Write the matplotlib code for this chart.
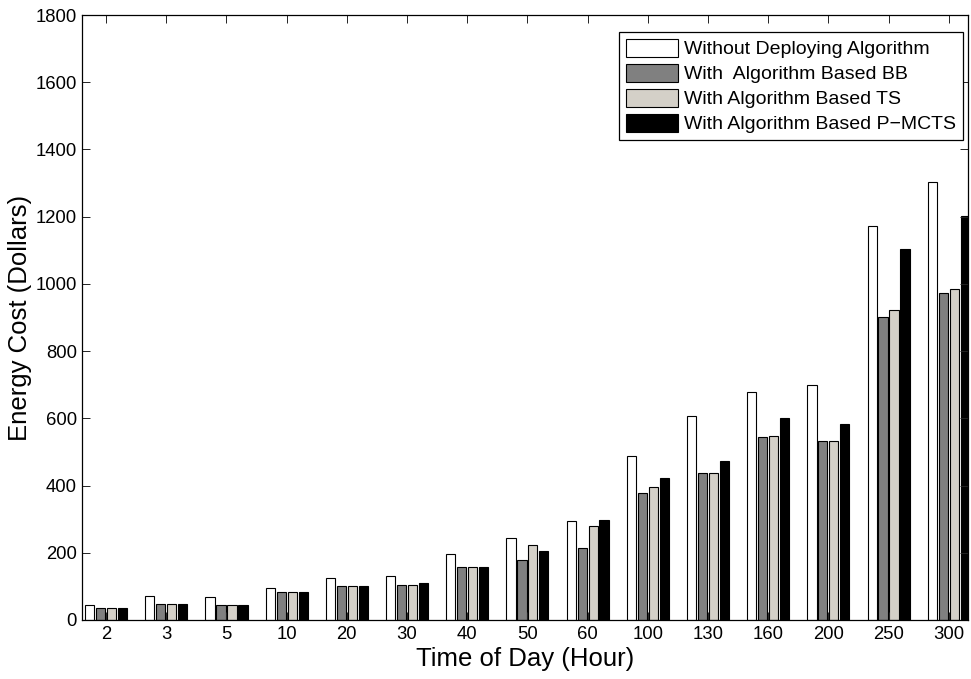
import numpy as np
import matplotlib
matplotlib.use("Agg")
import matplotlib.pyplot as plt

plt.rcParams['font.family'] = ['Liberation Sans', 'DejaVu Sans']

# energy cost per time of day
hours = ['2', '3', '5', '10', '20', '30', '40', '50', '60', '100', '130', '160', '200', '250', '300']
no_algo = [45, 72, 68, 94, 124, 131, 196, 244, 295, 489, 608, 679, 700, 1172, 1303]
bb_algo = [36, 47, 44, 84, 101, 105, 157, 179, 215, 379, 437, 544, 532, 901, 974]
ts_algo = [36, 47, 44, 84, 101, 105, 157, 222, 281, 397, 437, 547, 532, 923, 985]
mcts_algo = [36, 47, 44, 84, 101, 109, 157, 204, 298, 423, 474, 602, 584, 1105, 1201]

labels = ['Without Deploying Algorithm', 'With  Algorithm Based BB',
          'With Algorithm Based TS', 'With Algorithm Based P\u2212MCTS']
colors = ['#ffffff', '#808080', '#d4d0c8', '#000000']

fig = plt.figure(figsize=(9.71, 6.79), dpi=100)
ax = fig.add_axes([0.0845, 0.0869, 0.9124, 0.891])

x = np.arange(1, len(hours) + 1)
step = 0.182
width = 0.152
for i, (vals, c, lab) in enumerate(zip([no_algo, bb_algo, ts_algo, mcts_algo], colors, labels)):
    ax.bar(x + (i - 1.5) * step, vals, width, color=c, edgecolor='black',
           linewidth=0.8, label=lab)

ax.set_xlim(0.6, 15.32)
ax.set_ylim(0, 1800)
ax.set_xticks(x)
ax.set_xticklabels(hours)
ax.set_yticks(np.arange(0, 1801, 200))

ax.tick_params(direction='in', length=5.8, width=0.7, top=True, right=True,
               labelsize=13.3, color='#222222')
ax.tick_params(axis='y', pad=3.6)
ax.tick_params(axis='x', pad=4)
for s in ax.spines.values():
    s.set_linewidth(0.9)

ax.set_xlabel('Time of Day (Hour)', fontsize=18.5, labelpad=3)
ax.set_ylabel('Energy Cost (Dollars)', fontsize=18.5, labelpad=3)

leg = ax.legend(loc='upper right', bbox_to_anchor=(0.9944, 0.9724), borderaxespad=0,
                fontsize=14, fancybox=False, framealpha=1, edgecolor='black',
                handlelength=2.7, handleheight=1.05, labelspacing=0.28,
                handletextpad=0.3, borderpad=0.35)
leg.get_frame().set_linewidth(0.9)

fig.savefig('out.png', dpi=100)
